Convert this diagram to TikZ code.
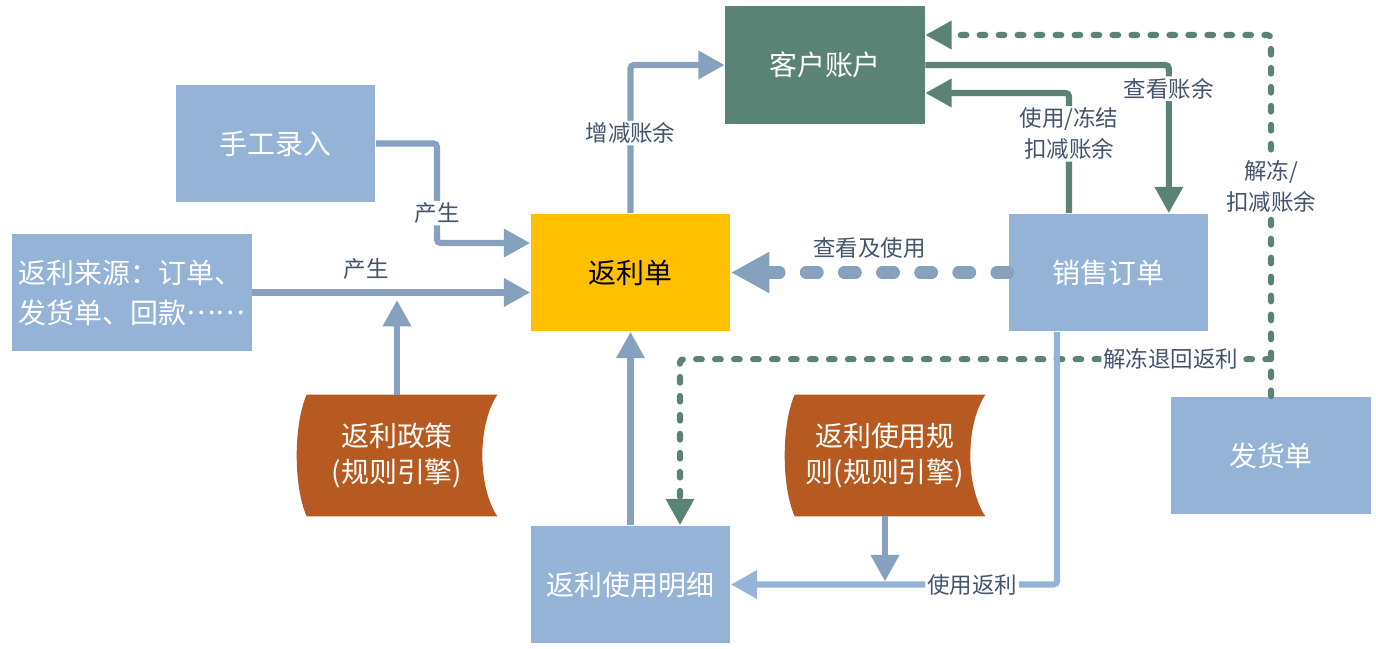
\documentclass[tikz,border=0pt]{standalone}
\usepackage{fontspec}
\setmainfont{Noto Sans CJK SC}
\usetikzlibrary{arrows.meta,calc,backgrounds}
\definecolor{boxblue}{HTML}{95B3D7}
\definecolor{lineblue}{HTML}{85A1BD}
\definecolor{acctgreen}{HTML}{5A8275}
\definecolor{enginebrown}{HTML}{B75A21}
\definecolor{billgold}{HTML}{FFC000}
\definecolor{labelgray}{HTML}{44546A}

\begin{document}
\begin{tikzpicture}[
    x=0.02cm, y=-0.02cm,
    box/.style={minimum width=4cm, minimum height=2.36cm, inner sep=0pt, text=white,
                font=\fontsize{15.9}{20.4}\selectfont},
    flow/.style={line width=3.5pt, draw=lineblue, rounded corners=2pt,
                 -{Triangle[length=15pt,width=15.5pt]}},
    gflow/.style={flow, draw=acctgreen},
    dots/.style={gflow, dash pattern=on 3.2pt off 7.6pt, line cap=round},
    bigdash/.style={line width=7pt, draw=lineblue, dash pattern=on 6.6pt off 15.1pt,
                    line cap=round, -{Triangle[length=22pt,width=22pt]}},
    lbl/.style={fill=white, text=labelgray, inner sep=1pt,
                font=\fontsize{12.8}{17.6}\selectfont},
]
\useasboundingbox (0,0) rectangle (1376,649);

\node[box, fill=acctgreen] (acct) at (825,65) {客户账户};
\node[box, fill=boxblue] (hand) at (275.5,143.5) {手工录入};
\node[box, fill=boxblue, minimum width=4.8cm, align=left,
      font=\fontsize{15.9}{22.7}\selectfont] (src) at (132,292.5) {返利来源：订单、\\发货单、回款\raisebox{0.3em}{……}};
\node[box, fill=billgold, text=black] (bill) at (630.5,272.5) {返利单};
\node[box, fill=boxblue] (sale) at (1108.5,272.5) {销售订单};
\node[box, fill=boxblue] (ship) at (1271,455.5) {发货单};
\node[box, fill=boxblue] (detail) at (630.5,584.5) {返利使用明细};
\node[box, minimum height=2.42cm, align=center] (policy) at (397,455.5) {返利政策\\(规则引擎)};
\node[box, minimum height=2.42cm, align=center] (rule) at (885,455.5) {返利使用规\\则(规则引擎)};

\begin{scope}[on background layer]
\foreach \e in {policy,rule}
  \fill[enginebrown] ($(\e.north west)+(10,0)$) -- (\e.north east)
    .. controls ($(\e.north east)+(-20,30)$) and ($(\e.south east)+(-20,-30)$) .. (\e.south east)
    -- ($(\e.south west)+(10,0)$)
    .. controls ($(\e.south west)+(-3.3,-30)$) and ($(\e.north west)+(-3.3,30)$) .. ($(\e.north west)+(10,0)$)
    -- cycle;
\end{scope}

\draw[flow] (hand.east) -| (437,243) node[lbl, pos=0.85] {产生} -- ([yshift=0.59cm]bill.west);
\draw[flow] (src.east) -- (src.east -| bill.west) node[lbl, pos=0.41, above=4.5pt] {产生};
\draw[flow, shorten >=4.3pt] (policy.north) -- (policy.north |- src.east);
\draw[flow] (bill.north) |- (acct.west) node[lbl, pos=0.27] {增减账余};
\draw[flow] (detail.north) -- (bill.south);
\draw[bigdash] (sale.west) -- (bill.east) node[lbl, midway, above=3.5pt] {查看及使用};

\draw[gflow] (acct.east) -| ([xshift=-0.8cm]sale.north east) node[lbl, pos=0.58] {查看账余};
\draw[gflow] ([xshift=-0.79cm]sale.north) |- ([yshift=-0.56cm]acct.east)
    node[lbl, pos=0.33, align=center] {使用/冻结\\扣减账余};
\draw[dots] (ship.north) |- ([yshift=0.6cm]acct.east) node[lbl, pos=0.29, align=center] {解冻/\\扣减账余};
\coordinate (thaw) at ([yshift=0.74cm]ship.north);
\draw[dots] (thaw) -| ([xshift=0.99cm]detail.north) node[lbl, pos=0.085] {解冻退回返利};

\draw[flow, draw=boxblue] ([xshift=-1.03cm]sale.south) |- (detail.east) node[lbl, pos=0.63] {使用返利};
\draw[flow, shorten >=1.8pt] (rule.south) -- (rule.south |- detail.east);
\end{tikzpicture}
\end{document}
